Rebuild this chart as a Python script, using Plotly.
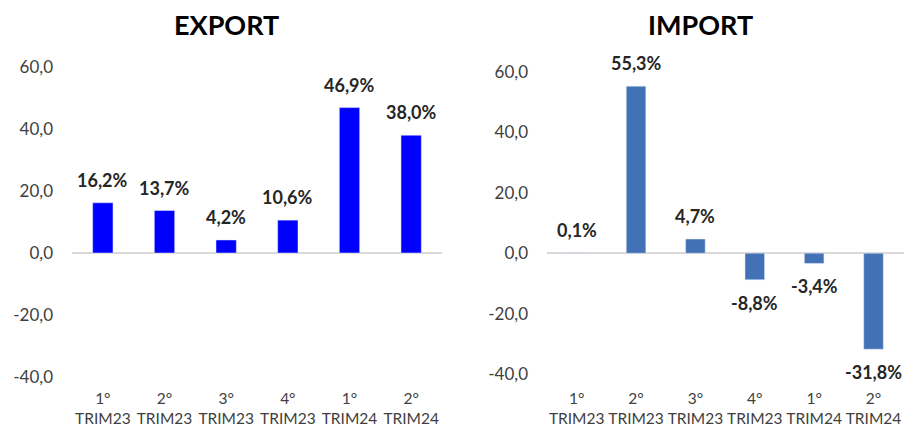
import plotly.graph_objects as go

categories = ["1°<br>TRIM23", "2°<br>TRIM23", "3°<br>TRIM23", "4°<br>TRIM23", "1°<br>TRIM24", "2°<br>TRIM24"]
export_values = [16.2, 13.7, 4.2, 10.6, 46.9, 38.0]
import_values = [0.1, 55.3, 4.7, -8.8, -3.4, -31.8]
y_tick_values = [-40, -20, 0, 20, 40, 60]
y_tick_labels = ["-40,0", "-20,0", "0,0", "20,0", "40,0", "60,0"]

EXPORT_COLOR = "#0000FF"
IMPORT_COLOR = "#4271B6"
FONT = "Lato"
W, H = 904, 427


def fmt(v):
    return f"{v:.1f}".replace(".", ",") + "%"


fig = go.Figure()
fig.add_trace(go.Bar(x=categories, y=export_values, marker_color=EXPORT_COLOR,
                     xaxis="x", yaxis="y", showlegend=False, width=0.33))
fig.add_trace(go.Bar(x=categories, y=import_values, marker_color=IMPORT_COLOR,
                     xaxis="x2", yaxis="y2", showlegend=False, width=0.33))

annotations = []
for xr, yr, vals in (("x", "y", export_values), ("x2", "y2", import_values)):
    for c, v in zip(categories, vals):
        pos = v >= 0
        annotations.append(dict(
            x=c, y=v, xref=xr, yref=yr, text="<b>" + fmt(v) + "</b>",
            showarrow=False, xanchor="center", yanchor="bottom" if pos else "top",
            yshift=10 if pos else -10,
            font=dict(family=FONT, size=18, color="#262626")))

annotations.append(dict(x=227 / W, y=1 - 25 / H, xref="paper", yref="paper",
                        text="<b>EXPORT</b>", showarrow=False, xanchor="center", yanchor="middle",
                        font=dict(family=FONT, size=27, color="#000000")))
annotations.append(dict(x=700 / W, y=1 - 25 / H, xref="paper", yref="paper",
                        text="<b>IMPORT</b>", showarrow=False, xanchor="center", yanchor="middle",
                        font=dict(family=FONT, size=27, color="#000000")))

xcommon = dict(showgrid=False, zeroline=False, showline=False, ticks="", automargin=False,
               tickfont=dict(family=FONT, size=15.5, color="#404040"), tickangle=0)
ycommon = dict(range=[-40, 60], tickvals=y_tick_values, ticktext=y_tick_labels,
               showgrid=False, zeroline=True, zerolinecolor="#D9D9D9", zerolinewidth=1.5,
               showline=False, ticks="", automargin=False,
               tickfont=dict(family=FONT, size=17, color="#404040"),
               ticklabelstandoff=18)

fig.update_layout(
    width=W, height=H,
    margin=dict(l=0, r=0, t=0, b=0, autoexpand=False),
    paper_bgcolor="white", plot_bgcolor="white",
    xaxis=dict(domain=[72 / W, 442 / W], anchor="y", ticklabelstandoff=10, **xcommon),
    yaxis=dict(domain=[(H - 377) / H, (H - 67) / H], anchor="x", **ycommon),
    xaxis2=dict(domain=[547 / W, 1.0], anchor="y2", ticklabelstandoff=13, **xcommon),
    yaxis2=dict(domain=[(H - 374) / H, (H - 72) / H], anchor="x2", **ycommon),
    annotations=annotations,
    bargap=0.67,
)

fig.write_html("out.html")
